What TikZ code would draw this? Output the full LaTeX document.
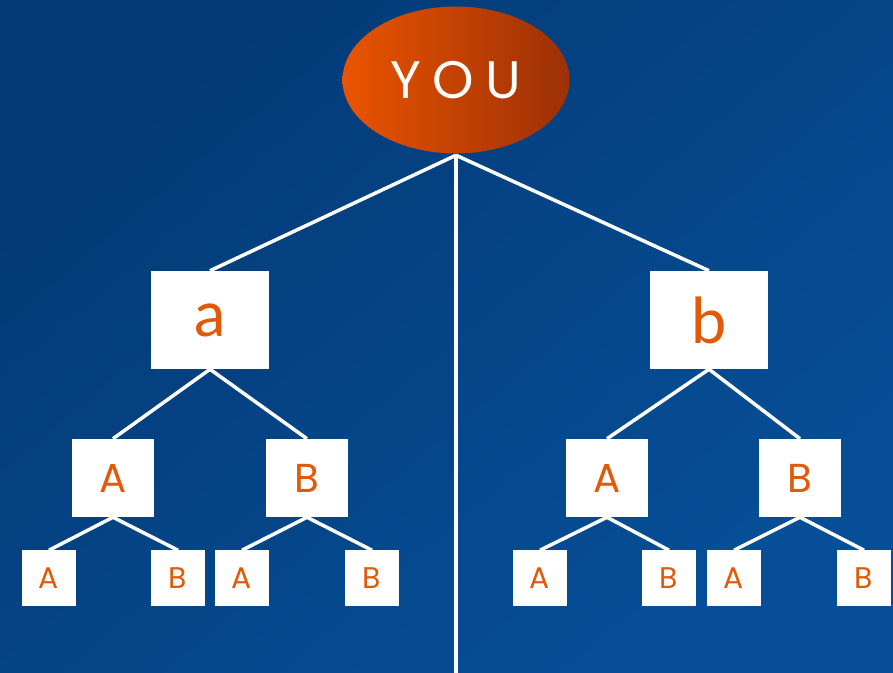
\documentclass[tikz,border=0pt]{standalone}
\usepackage{fontspec}
\setmainfont{Poppins}
\newfontfamily\youfont[LetterSpace=22]{Poppins}
\newfontfamily\lowfont{Lato}
\usetikzlibrary{shapes.geometric}
\definecolor{bgdark}{HTML}{043A76}
\definecolor{bglight}{HTML}{064F98}
\definecolor{orng}{HTML}{E05A0A}
\definecolor{ovleft}{HTML}{EA5400}
\definecolor{ovright}{HTML}{9C3006}

\begin{document}
\begin{tikzpicture}[line width=2pt, white,
	big/.style = {draw=white, fill=white, text=orng, minimum width=2.3cm, minimum height=1.9cm, inner sep=0, font=\lowfont\fontsize{36}{36}\selectfont},
	mid/.style = {draw=white, fill=white, text=orng, minimum width=1.58cm, minimum height=1.5cm, inner sep=0, font=\fontsize{23}{23}\selectfont},
	leaf/.style = {draw=white, fill=white, text=orng, minimum width=1cm, minimum height=1.04cm, inner sep=0, font=\fontsize{17}{17}\selectfont}]
		% background
		\shade[top color=bgdark, bottom color=bglight, shading angle=40] (0,0) rectangle (17.86,-13.46);
		\useasboundingbox (0,0) rectangle (17.86,-13.46);
		\node[ellipse, left color=ovleft, right color=ovright, minimum width=4.54cm, minimum height=2.94cm, inner sep=0, text=white, font=\youfont\fontsize{30}{30}\selectfont] (you) at (9.12,-1.6) {YOU};
		\coordinate (end) at (9.12,-13.46);
		\node[big] (a) at (4.20,-6.40) {a};
		\node[big] (b) at (14.18,-6.40) {b};
		\node[mid] (aA) at (2.26,-9.56) {A};
		\node[mid] (aB) at (6.14,-9.56) {B};
		\node[mid] (bA) at (12.14,-9.56) {A};
		\node[mid] (bB) at (16.00,-9.56) {B};
		\node[leaf] (aAA) at (0.98,-11.56) {A};
		\node[leaf] (aAB) at (3.56,-11.56) {B};
		\node[leaf] (aBA) at (4.84,-11.56) {A};
		\node[leaf] (aBB) at (7.44,-11.56) {B};
		\node[leaf] (bAA) at (10.80,-11.56) {A};
		\node[leaf] (bAB) at (13.38,-11.56) {B};
		\node[leaf] (bBA) at (14.68,-11.56) {A};
		\node[leaf] (bBB) at (17.28,-11.56) {B};
		\draw (you.south) -- (a.north);
		\draw (you.south) -- (b.north);
		\draw (you.south) -- (end);
		\draw (a.south) -- (aA.north);
		\draw (a.south) -- (aB.north);
		\draw (b.south) -- (bA.north);
		\draw (b.south) -- (bB.north);
		\draw (aA.south) -- (aAA.north);
		\draw (aA.south) -- (aAB.north);
		\draw (aB.south) -- (aBA.north);
		\draw (aB.south) -- (aBB.north);
		\draw (bA.south) -- (bAA.north);
		\draw (bA.south) -- (bAB.north);
		\draw (bB.south) -- (bBA.north);
		\draw (bB.south) -- (bBB.north);
	\end{tikzpicture}
\end{document}
